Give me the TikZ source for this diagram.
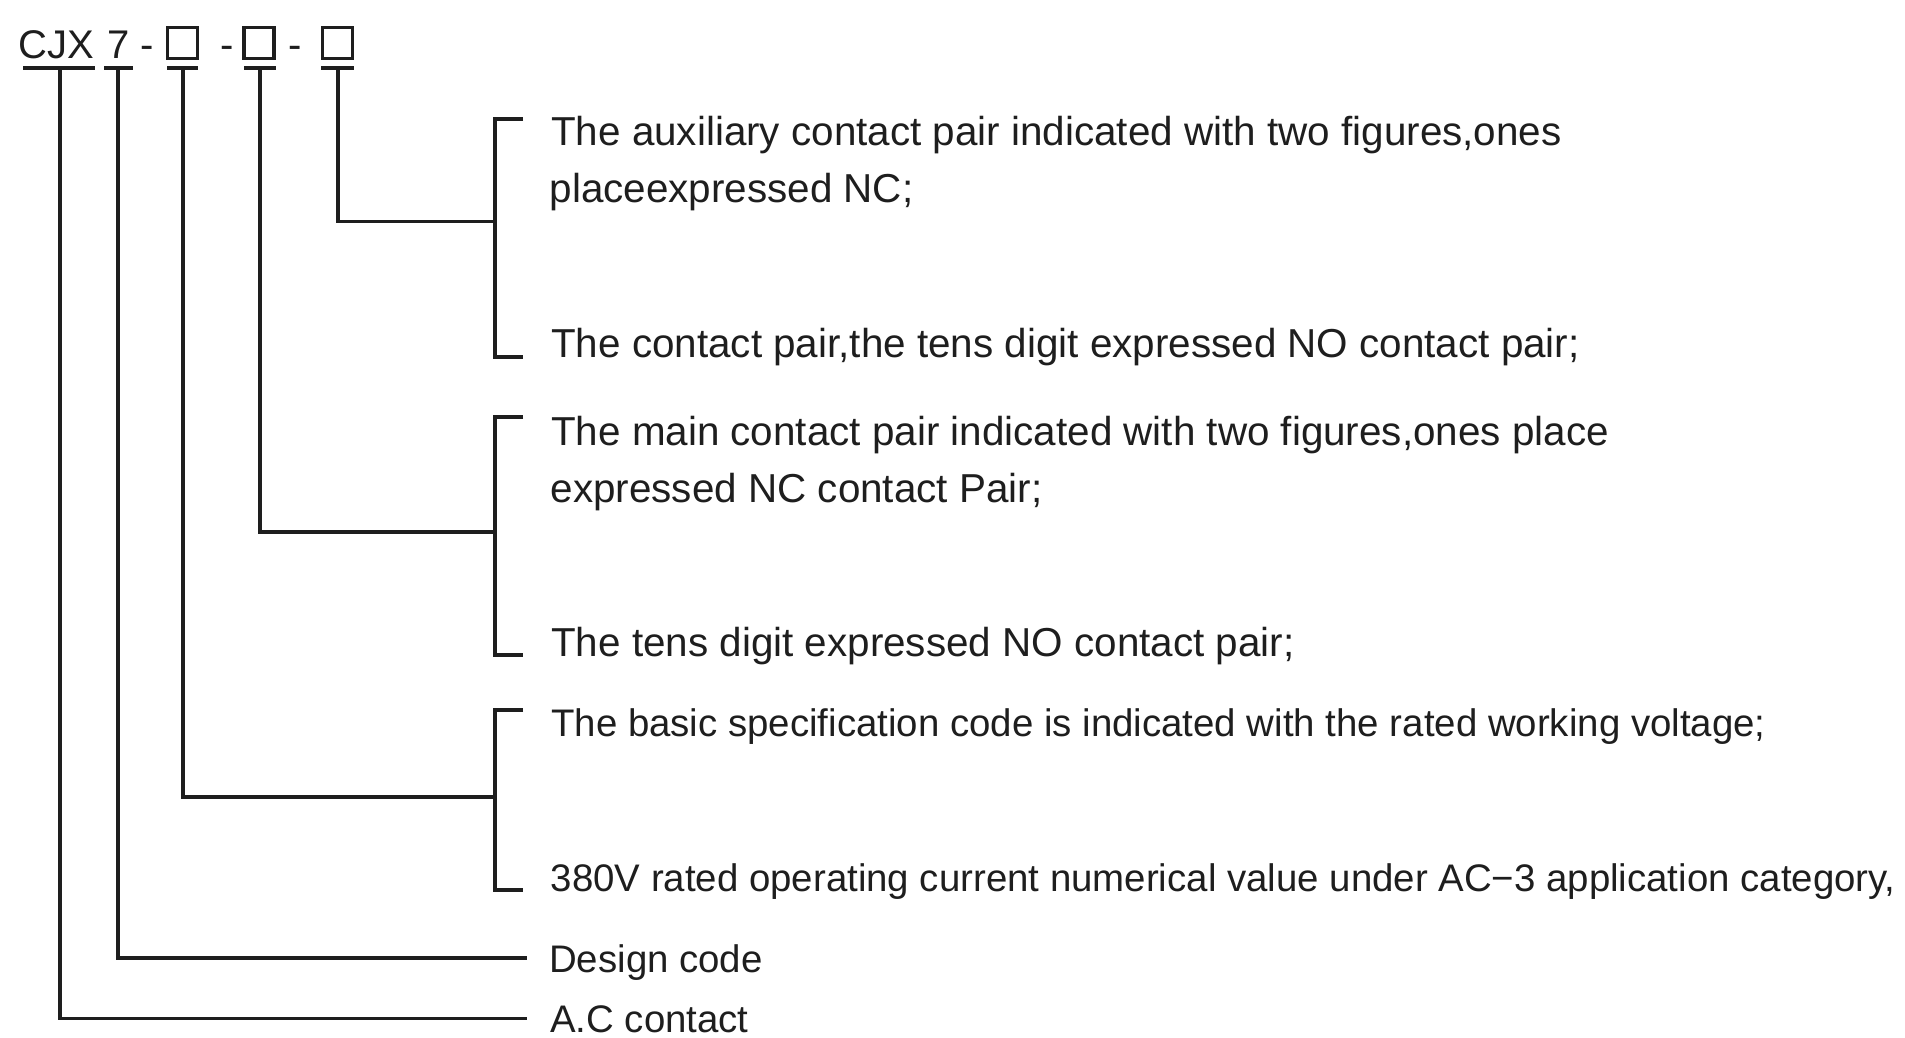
\documentclass[tikz,border=0pt]{standalone}
\usepackage{fontspec}
\setmainfont{Liberation Sans}
\definecolor{ink}{HTML}{1E1E1E}
\begin{document}
\begin{tikzpicture}[x=1pt,y=-1pt,
  conn/.style={draw=ink, line width=3.1pt},
  brk/.style={draw=ink, line width=3.2pt},
  codebar/.style={draw=ink, line width=4.2pt},
  desc/.style={anchor=base west, inner sep=0pt, text=ink, font=\fontsize{40.4}{48}\selectfont},
  descs/.style={anchor=base west, inner sep=0pt, text=ink, font=\fontsize{38.4}{46}\selectfont},
  head/.style={anchor=base west, inner sep=0pt, text=ink, font=\fontsize{40}{48}\selectfont},
  codebox/.style={draw=ink, line width=3.2pt, minimum width=30pt, minimum height=31pt, inner sep=0pt},
]
\useasboundingbox[fill=white] (0,0) rectangle (1905,1037);

% header
\node[head] (cjx) at (18.5,58.3) {CJX};
\node[head] (seven) at (107.5,58.3) {7};
\node[head] (d1) at (140,58.3) {-};
\node[codebox] (b1) at (182.5,43) {};
\node[head] (d2) at (220,58.3) {-};
\node[codebox] (b2) at (259,43) {};
\node[head] (d3) at (288,58.3) {-};
\node[codebox] (b3) at (337.5,43) {};

% underline bars
\coordinate (u0a) at (23,67.7);  \coordinate (u0b) at (95,67.7);
\coordinate (u1a) at (104,67.7); \coordinate (u1b) at (133,67.7);
\coordinate (u2a) at (167,67.7); \coordinate (u2b) at (198,67.7);
\coordinate (u3a) at (244,67.7); \coordinate (u3b) at (276,67.7);
\coordinate (u4a) at (321,67.7); \coordinate (u4b) at (354,67.7);
\draw[codebar] (u0a) -- (u0b);
\draw[codebar] (u1a) -- (u1b);
\draw[codebar] (u2a) -- (u2b);
\draw[codebar] (u3a) -- (u3b);
\draw[codebar] (u4a) -- (u4b);

% vertical start points
\coordinate (v0) at (60,68);
\coordinate (v1) at (118,68);
\coordinate (v2) at (183,68);
\coordinate (v3) at (260,68);
\coordinate (v4) at (338,68);

% descriptions
\node[desc] (t1a) at (551,145) {The auxiliary contact pair indicated with two figures,ones};
\node[desc] (t1b) at (549.5,202) {placeexpressed NC;};
\node[desc] (t1c) at (551,357) {The contact pair,the tens digit expressed NO contact pair;};
\node[desc] (t2a) at (551,445) {The main contact pair indicated with two figures,ones place};
\node[desc] (t2b) at (550.5,502) {expressed NC contact Pair;};
\node[desc] (t2c) at (551,656) {The tens digit expressed NO contact pair;};
\node[descs] (t3a) at (551,736) {The basic specification code is indicated with the rated working voltage;};
\node[descs] (t3b) at (550.5,891) {380V rated operating current numerical value under AC−3 application category,};
\node[descs] (dc) at (549,972) {Design code};
\node[descs] (ac) at (550,1032) {A.C contact};

% brackets
\coordinate (br1t) at (523,119); \coordinate (br1b) at (523,357);
\coordinate (br2t) at (523,417); \coordinate (br2b) at (523,655);
\coordinate (br3t) at (523,710); \coordinate (br3b) at (523,890);
\draw[brk] (br1t) -- ++(-28,0) |- (br1b);
\draw[brk] (br2t) -- ++(-28,0) |- (br2b);
\draw[brk] (br3t) -- ++(-28,0) |- (br3b);

% junctions
\coordinate (j1) at (495,221.5);
\coordinate (j2) at (495,532);
\coordinate (j3) at (495,797);
\coordinate (jd) at (527,958);
\coordinate (ja) at (527,1018.5);

\draw[conn] (v4) |- (j1);
\draw[conn] (v3) |- (j2);
\draw[conn] (v2) |- (j3);
\draw[conn] (v1) |- (jd);
\draw[conn] (v0) |- (ja);
\end{tikzpicture}
\end{document}
